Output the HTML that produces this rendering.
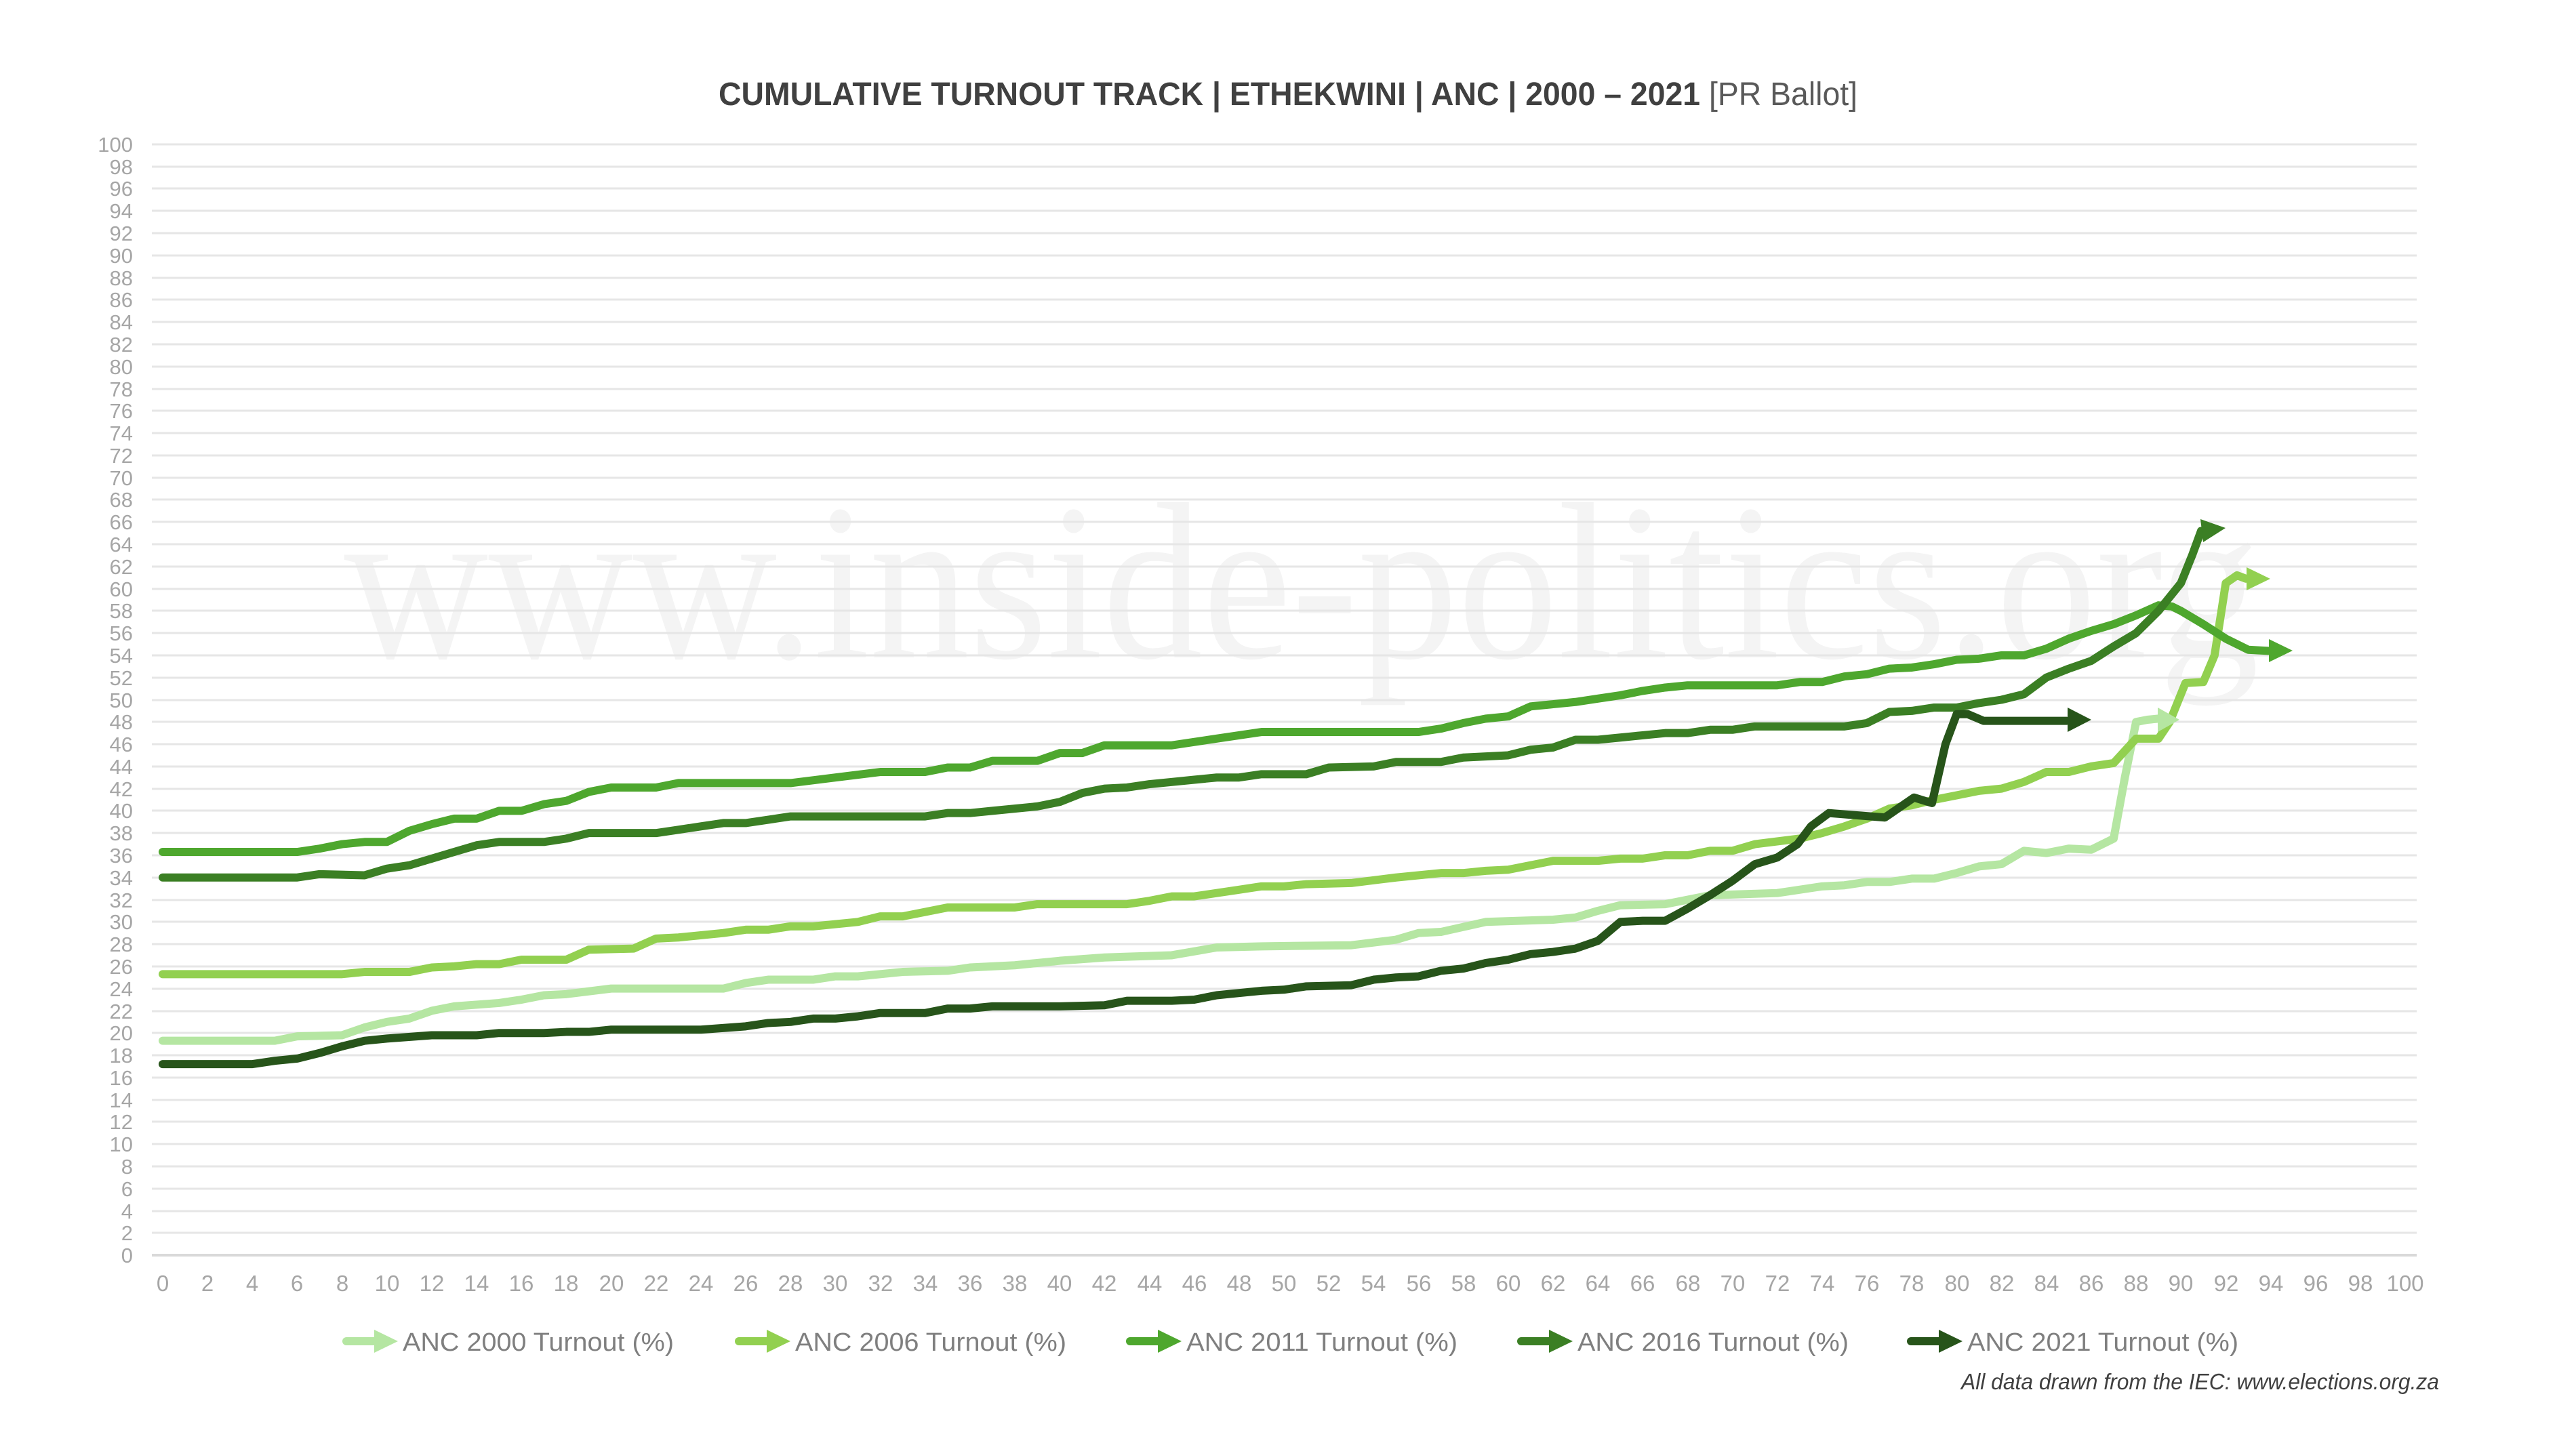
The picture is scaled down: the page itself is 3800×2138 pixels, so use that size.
<!DOCTYPE html>
<html><head><meta charset="utf-8"><style>
html,body{margin:0;padding:0;background:#fff;}
svg{display:block;}
</style></head><body>
<svg width="3800" height="2138" viewBox="0 0 3800 2138" xmlns="http://www.w3.org/2000/svg" font-family="'Liberation Sans', sans-serif">
<rect width="3800" height="2138" fill="#fff"/>
<text x="1920" y="970" font-family="'Liberation Serif', serif" font-size="330" fill="#f4f4f4" text-anchor="middle" textLength="2825" lengthAdjust="spacingAndGlyphs">www.inside-politics.org</text>
<g stroke="#e6e6e6" stroke-width="3">
<line x1="224" x2="3565" y1="213" y2="213"/><line x1="224" x2="3565" y1="246" y2="246"/><line x1="224" x2="3565" y1="278" y2="278"/><line x1="224" x2="3565" y1="311" y2="311"/><line x1="224" x2="3565" y1="344" y2="344"/><line x1="224" x2="3565" y1="377" y2="377"/><line x1="224" x2="3565" y1="410" y2="410"/><line x1="224" x2="3565" y1="442" y2="442"/><line x1="224" x2="3565" y1="475" y2="475"/><line x1="224" x2="3565" y1="508" y2="508"/><line x1="224" x2="3565" y1="541" y2="541"/><line x1="224" x2="3565" y1="574" y2="574"/><line x1="224" x2="3565" y1="606" y2="606"/><line x1="224" x2="3565" y1="639" y2="639"/><line x1="224" x2="3565" y1="672" y2="672"/><line x1="224" x2="3565" y1="705" y2="705"/><line x1="224" x2="3565" y1="737" y2="737"/><line x1="224" x2="3565" y1="770" y2="770"/><line x1="224" x2="3565" y1="803" y2="803"/><line x1="224" x2="3565" y1="836" y2="836"/><line x1="224" x2="3565" y1="869" y2="869"/><line x1="224" x2="3565" y1="901" y2="901"/><line x1="224" x2="3565" y1="934" y2="934"/><line x1="224" x2="3565" y1="967" y2="967"/><line x1="224" x2="3565" y1="1000" y2="1000"/><line x1="224" x2="3565" y1="1033" y2="1033"/><line x1="224" x2="3565" y1="1065" y2="1065"/><line x1="224" x2="3565" y1="1098" y2="1098"/><line x1="224" x2="3565" y1="1131" y2="1131"/><line x1="224" x2="3565" y1="1164" y2="1164"/><line x1="224" x2="3565" y1="1196" y2="1196"/><line x1="224" x2="3565" y1="1229" y2="1229"/><line x1="224" x2="3565" y1="1262" y2="1262"/><line x1="224" x2="3565" y1="1295" y2="1295"/><line x1="224" x2="3565" y1="1328" y2="1328"/><line x1="224" x2="3565" y1="1360" y2="1360"/><line x1="224" x2="3565" y1="1393" y2="1393"/><line x1="224" x2="3565" y1="1426" y2="1426"/><line x1="224" x2="3565" y1="1459" y2="1459"/><line x1="224" x2="3565" y1="1492" y2="1492"/><line x1="224" x2="3565" y1="1524" y2="1524"/><line x1="224" x2="3565" y1="1557" y2="1557"/><line x1="224" x2="3565" y1="1590" y2="1590"/><line x1="224" x2="3565" y1="1623" y2="1623"/><line x1="224" x2="3565" y1="1655" y2="1655"/><line x1="224" x2="3565" y1="1688" y2="1688"/><line x1="224" x2="3565" y1="1721" y2="1721"/><line x1="224" x2="3565" y1="1754" y2="1754"/><line x1="224" x2="3565" y1="1787" y2="1787"/><line x1="224" x2="3565" y1="1819" y2="1819"/>
<line x1="224" x2="3565" y1="1852" y2="1852" stroke="#d9d9d9" stroke-width="4"/>
</g>
<g font-size="31" fill="#a6a6a6" text-anchor="end">
<text x="196" y="224">100</text><text x="196" y="257">98</text><text x="196" y="289">96</text><text x="196" y="322">94</text><text x="196" y="355">92</text><text x="196" y="388">90</text><text x="196" y="421">88</text><text x="196" y="453">86</text><text x="196" y="486">84</text><text x="196" y="519">82</text><text x="196" y="552">80</text><text x="196" y="585">78</text><text x="196" y="617">76</text><text x="196" y="650">74</text><text x="196" y="683">72</text><text x="196" y="716">70</text><text x="196" y="748">68</text><text x="196" y="781">66</text><text x="196" y="814">64</text><text x="196" y="847">62</text><text x="196" y="880">60</text><text x="196" y="912">58</text><text x="196" y="945">56</text><text x="196" y="978">54</text><text x="196" y="1011">52</text><text x="196" y="1044">50</text><text x="196" y="1076">48</text><text x="196" y="1109">46</text><text x="196" y="1142">44</text><text x="196" y="1175">42</text><text x="196" y="1207">40</text><text x="196" y="1240">38</text><text x="196" y="1273">36</text><text x="196" y="1306">34</text><text x="196" y="1339">32</text><text x="196" y="1371">30</text><text x="196" y="1404">28</text><text x="196" y="1437">26</text><text x="196" y="1470">24</text><text x="196" y="1503">22</text><text x="196" y="1535">20</text><text x="196" y="1568">18</text><text x="196" y="1601">16</text><text x="196" y="1634">14</text><text x="196" y="1666">12</text><text x="196" y="1699">10</text><text x="196" y="1732">8</text><text x="196" y="1765">6</text><text x="196" y="1798">4</text><text x="196" y="1830">2</text><text x="196" y="1863">0</text>
</g>
<g font-size="33" fill="#a6a6a6" text-anchor="middle">
<text x="240" y="1905">0</text><text x="306" y="1905">2</text><text x="372" y="1905">4</text><text x="438" y="1905">6</text><text x="505" y="1905">8</text><text x="571" y="1905">10</text><text x="637" y="1905">12</text><text x="703" y="1905">14</text><text x="769" y="1905">16</text><text x="835" y="1905">18</text><text x="902" y="1905">20</text><text x="968" y="1905">22</text><text x="1034" y="1905">24</text><text x="1100" y="1905">26</text><text x="1166" y="1905">28</text><text x="1232" y="1905">30</text><text x="1299" y="1905">32</text><text x="1365" y="1905">34</text><text x="1431" y="1905">36</text><text x="1497" y="1905">38</text><text x="1563" y="1905">40</text><text x="1629" y="1905">42</text><text x="1696" y="1905">44</text><text x="1762" y="1905">46</text><text x="1828" y="1905">48</text><text x="1894" y="1905">50</text><text x="1960" y="1905">52</text><text x="2026" y="1905">54</text><text x="2093" y="1905">56</text><text x="2159" y="1905">58</text><text x="2225" y="1905">60</text><text x="2291" y="1905">62</text><text x="2357" y="1905">64</text><text x="2423" y="1905">66</text><text x="2490" y="1905">68</text><text x="2556" y="1905">70</text><text x="2622" y="1905">72</text><text x="2688" y="1905">74</text><text x="2754" y="1905">76</text><text x="2820" y="1905">78</text><text x="2887" y="1905">80</text><text x="2953" y="1905">82</text><text x="3019" y="1905">84</text><text x="3085" y="1905">86</text><text x="3151" y="1905">88</text><text x="3217" y="1905">90</text><text x="3284" y="1905">92</text><text x="3350" y="1905">94</text><text x="3416" y="1905">96</text><text x="3482" y="1905">98</text><text x="3548" y="1905">100</text>
</g>
<g transform="translate(240,1852) scale(33.08,-16.39)" fill="none" stroke-width="12" stroke-linejoin="round" stroke-linecap="round">
<polyline vector-effect="non-scaling-stroke" stroke="#b5e6a2" points="0,19.3 5,19.3 6,19.7 8,19.8 9,20.5 10,21 11,21.3 12,22 13,22.4 15,22.7 16,23 17,23.4 18,23.5 20,24 25,24 26,24.5 27,24.8 29,24.8 30,25.1 31,25.1 33,25.5 35,25.6 36,25.9 38,26.1 40,26.5 42,26.8 45,27 47,27.7 49,27.8 53,27.9 55,28.4 56,29 57,29.1 59,30 62,30.2 63,30.4 64,31 65,31.5 67,31.6 69,32.4 72,32.6 74,33.2 75,33.3 76,33.6 77,33.6 78,33.9 79,33.9 80,34.4 81,35 82,35.2 83,36.4 84,36.2 85,36.6 86,36.5 87,37.5 87.5,43 88,48 88.5,48.2 89,48.3"/>
<polyline vector-effect="non-scaling-stroke" stroke="#92d050" points="0,25.3 8,25.3 9,25.5 11,25.5 12,25.9 13,26 14,26.2 15,26.2 16,26.6 18,26.6 19,27.5 21,27.6 22,28.5 23,28.6 25,29 26,29.3 27,29.3 28,29.6 29,29.6 31,30 32,30.5 33,30.5 35,31.3 38,31.3 39,31.6 43,31.6 44,31.9 45,32.3 46,32.3 48,32.9 49,33.2 50,33.2 51,33.4 53,33.5 55,34 57,34.4 58,34.4 59,34.6 60,34.7 62,35.5 64,35.5 65,35.7 66,35.7 67,36 68,36 69,36.4 70,36.4 71,37 73,37.5 74,38 75,38.6 76,39.3 77,40.2 78,40.5 79,41 80,41.4 81,41.8 82,42 83,42.6 84,43.5 85,43.5 86,44 87,44.3 88,46.5 89,46.5 89.5,48 90.2,51.5 91,51.6 91.5,54 92,60.5 92.5,61.2 92.9,60.9"/>
<polyline vector-effect="non-scaling-stroke" stroke="#4ea72e" points="0,36.3 6,36.3 7,36.6 8,37 9,37.2 10,37.2 11,38.2 12,38.8 13,39.3 14,39.3 15,40 16,40 17,40.6 18,40.9 19,41.7 20,42.1 22,42.1 23,42.5 28,42.5 30,43 32,43.5 34,43.5 35,43.9 36,43.9 37,44.5 39,44.5 40,45.2 41,45.2 42,45.9 45,45.9 47,46.5 49,47.1 56,47.1 57,47.4 58,47.9 59,48.3 60,48.5 61,49.4 62,49.6 63,49.8 64,50.1 65,50.4 66,50.8 67,51.1 68,51.3 72,51.3 73,51.6 74,51.6 75,52.1 76,52.3 77,52.8 78,52.9 79,53.2 80,53.6 81,53.7 82,54 83,54 84,54.6 85,55.5 86,56.2 87,56.8 88,57.6 89,58.5 89.6,58.4 90,58 91,56.8 92,55.5 93,54.5 93.9,54.4"/>
<polyline vector-effect="non-scaling-stroke" stroke="#3b7f24" points="0,34 6,34 7,34.3 9,34.2 10,34.8 11,35.1 12,35.7 13,36.3 14,36.9 15,37.2 17,37.2 18,37.5 19,38 22,38 23,38.3 24,38.6 25,38.9 26,38.9 27,39.2 28,39.5 34,39.5 35,39.8 36,39.8 37,40 39,40.4 40,40.8 41,41.6 42,42 43,42.1 44,42.4 45,42.6 46,42.8 47,43 48,43 49,43.3 51,43.3 52,43.9 54,44 55,44.4 57,44.4 58,44.8 60,45 61,45.5 62,45.7 63,46.4 64,46.4 65,46.6 66,46.8 67,47 68,47 69,47.3 70,47.3 71,47.6 75,47.6 76,47.9 77,48.9 78,49 79,49.3 80,49.3 81,49.7 82,50 83,50.5 84,52 85,52.8 86,53.5 87,54.8 88,56 89,58 90,60.5 90.5,63 90.9,65.2"/>
<polyline vector-effect="non-scaling-stroke" stroke="#27541a" points="0,17.2 4,17.2 5,17.5 6,17.7 7,18.2 8,18.8 9,19.3 10,19.5 12,19.8 14,19.8 15,20 17,20 18,20.1 19,20.1 20,20.3 24,20.3 26,20.6 27,20.9 28,21 29,21.3 30,21.3 31,21.5 32,21.8 34,21.8 35,22.2 36,22.2 37,22.4 40,22.4 42,22.5 43,22.9 45,22.9 46,23 47,23.4 48,23.6 49,23.8 50,23.9 51,24.2 53,24.3 54,24.8 55,25 56,25.1 57,25.6 58,25.8 59,26.3 60,26.6 61,27.1 62,27.3 63,27.6 64,28.3 65,30 66,30.1 67,30.1 68,31.2 69,32.4 70,33.7 71,35.2 72,35.8 72.9,37 73.5,38.6 74.3,39.8 76.8,39.4 78.1,41.2 78.9,40.7 79.5,46 80,48.7 80.5,48.7 81.2,48.1 84.9,48.1"/>
</g>
<polygon fill="#b5e6a2" points="3183,1044 3215,1062 3183,1080"/>
<polygon fill="#92d050" points="3314,837 3349,854 3314,871"/>
<polygon fill="#4ea72e" points="3347,943 3382,960 3347,977"/>
<polygon fill="#3b7f24" points="3246,766 3283,779 3250,800"/>
<polygon fill="#27541a" points="3050,1044 3085,1062 3050,1080"/>
<text x="1900" y="155" text-anchor="middle" font-size="48" textLength="1680" lengthAdjust="spacingAndGlyphs"><tspan font-weight="bold" fill="#404040">CUMULATIVE TURNOUT TRACK | ETHEKWINI | ANC | 2000 – 2021 </tspan><tspan fill="#595959">[PR Ballot]</tspan></text>
<g stroke-width="12" stroke-linecap="round">
<line x1="511" y1="1979" x2="552" y2="1979" stroke="#b5e6a2"/><polygon fill="#b5e6a2" points="552,1962 587,1979 552,1996"/>
<line x1="1090" y1="1979" x2="1131" y2="1979" stroke="#92d050"/><polygon fill="#92d050" points="1131,1962 1166,1979 1131,1996"/>
<line x1="1667" y1="1979" x2="1708" y2="1979" stroke="#4ea72e"/><polygon fill="#4ea72e" points="1708,1962 1743,1979 1708,1996"/>
<line x1="2244" y1="1979" x2="2285" y2="1979" stroke="#3b7f24"/><polygon fill="#3b7f24" points="2285,1962 2320,1979 2285,1996"/>
<line x1="2819" y1="1979" x2="2860" y2="1979" stroke="#27541a"/><polygon fill="#27541a" points="2860,1962 2895,1979 2860,1996"/>
</g>
<g font-size="38" fill="#7f7f7f">
<text x="594" y="1993" textLength="400" lengthAdjust="spacingAndGlyphs">ANC 2000 Turnout (%)</text>
<text x="1173" y="1993" textLength="400" lengthAdjust="spacingAndGlyphs">ANC 2006 Turnout (%)</text>
<text x="1750" y="1993" textLength="400" lengthAdjust="spacingAndGlyphs">ANC 2011 Turnout (%)</text>
<text x="2327" y="1993" textLength="400" lengthAdjust="spacingAndGlyphs">ANC 2016 Turnout (%)</text>
<text x="2902" y="1993" textLength="400" lengthAdjust="spacingAndGlyphs">ANC 2021 Turnout (%)</text>
</g>
<text x="3598" y="2050" text-anchor="end" font-size="33" font-style="italic" fill="#404040" textLength="705" lengthAdjust="spacingAndGlyphs">All data drawn from the IEC: www.elections.org.za</text>
</svg>
</body></html>
